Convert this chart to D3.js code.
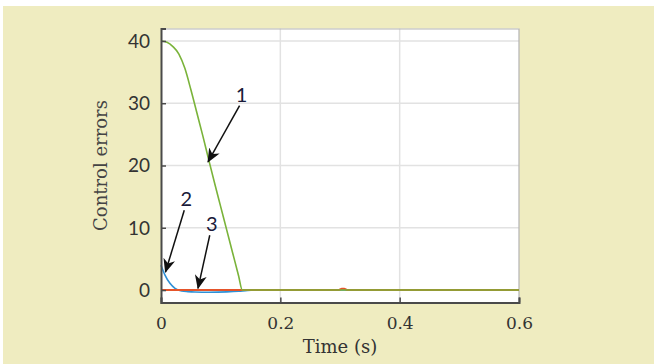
<!DOCTYPE html>
<html>
<head>
<meta charset="utf-8">
<script src="https://cdn.jsdelivr.net/npm/d3@7"></script>
<style>
  html, body { margin: 0; padding: 0; background: #ffffff; }
  svg { display: block; }
</style>
</head>
<body>
<svg id="chart" width="654" height="364"></svg>
<script>
// Control error traces (time in seconds, error value)
const timeTicks = [0, 0.2, 0.4, 0.6];
const errorTicks = [0, 10, 20, 30, 40];

const greenTime  = [0, 0.01, 0.02, 0.03, 0.04, 0.05, 0.06, 0.07, 0.08, 0.09, 0.10, 0.11, 0.12, 0.13, 0.1363, 0.6];
const greenError = [40, 39.8, 39.1, 37.9, 35.6, 32.2, 28.5, 24.8, 20.9, 17.1, 13.4, 9.7, 6.0, 2.3, 0, 0];

const blueTime  = [0, 0.0067, 0.015, 0.0235, 0.0347, 0.045, 0.057, 0.08, 0.11, 0.13, 0.145, 0.157, 0.6];
const blueError = [4.0, 2.4, 1.08, 0.27, -0.16, -0.26, -0.32, -0.35, -0.3, -0.2, -0.05, 0, 0];

const redTime  = [0, 0.298, 0.303, 0.307, 0.312, 0.6];
const redError = [0, 0, 0.2, 0.2, 0, 0];

// Numbered callouts: label, arrow tail and arrow tip in data units
const calloutLabels = ["1", "2", "3"];
const calloutTail = [[0.1317, 29.6], [0.039, 12.8], [0.0817, 8.8]];
const calloutTip  = [[0.0788, 20.6], [0.0075, 2.9], [0.062, 0.27]];

const svg = d3.select("#chart");
const W = 654, H = 364;
const margin = { left: 161, top: 28.5, right: 135, bottom: 61.5 };
const iw = W - margin.left - margin.right;
const ih = H - margin.top - margin.bottom;

// page background
svg.append("rect").attr("x", 0).attr("y", 0).attr("width", W).attr("height", H).attr("fill", "#ffffff");
svg.append("rect").attr("x", 3).attr("y", 6).attr("width", W - 3).attr("height", H - 6).attr("fill", "#efecc0");

const x = d3.scaleLinear().domain([0, 0.6]).range([0, iw]);
const y = d3.scaleLinear().domain([-2, 42]).range([ih, 0]);

const g = svg.append("g").attr("transform", `translate(${margin.left},${margin.top})`);

// plot area
g.append("rect").attr("width", iw).attr("height", ih).attr("fill", "#ffffff");

// grid
g.append("g").selectAll("line").data(timeTicks.slice(1, -1)).join("line")
  .attr("x1", d => x(d)).attr("x2", d => x(d)).attr("y1", 0).attr("y2", ih)
  .attr("stroke", "#e2e2e2").attr("stroke-width", 1.5);
g.append("g").selectAll("line").data(errorTicks).join("line")
  .attr("x1", 0).attr("x2", iw).attr("y1", d => y(d)).attr("y2", d => y(d))
  .attr("stroke", "#e2e2e2").attr("stroke-width", 1.5);

// top and right frame
g.append("path").attr("d", `M0,0.5H${iw}V${ih}`).attr("fill", "none")
  .attr("stroke", "#b4b4b4").attr("stroke-width", 1.2);

// series
const line = d3.line().x(d => x(d[0])).y(d => y(d[1])).curve(d3.curveMonotoneX);
const zip = (a, b) => a.map((t, i) => [t, b[i]]);

g.append("path").datum(zip(blueTime, blueError)).attr("d", line)
  .attr("fill", "none").attr("stroke", "#2f90d6").attr("stroke-width", 1.6);
g.append("path").datum(zip(redTime, redError)).attr("d", line)
  .attr("fill", "none").attr("stroke", "#e5542a").attr("stroke-width", 2);
g.append("path").datum(zip(greenTime, greenError)).attr("d", line)
  .attr("fill", "none").attr("stroke", "#7ab33a").attr("stroke-width", 1.6);

// axes
const xAxis = d3.axisBottom(x).tickValues(timeTicks).tickSize(-5).tickPadding(14)
  .tickFormat(d => d === 0 ? "0" : d3.format(".1f")(d));
const yAxis = d3.axisLeft(y).tickValues(errorTicks).tickSize(-5).tickPadding(11)
  .tickFormat(d3.format("d"));

const xg = g.append("g").attr("transform", `translate(0,${ih})`).call(xAxis);
const yg = g.append("g").call(yAxis);

[xg, yg].forEach(a => {
  a.select(".domain").attr("stroke", "#4a4a4a").attr("stroke-width", 2);
  a.selectAll(".tick line").attr("stroke", "#4a4a4a").attr("stroke-width", 1.5);
  a.selectAll(".tick text").attr("fill", "#333333");
});
xg.selectAll(".tick text").attr("font-family", "'DejaVu Serif', serif").attr("font-size", 17);
yg.selectAll(".tick text").attr("font-family", "Lato, sans-serif").attr("font-size", 19).attr("dy", "0.34em");

// axis titles
svg.append("text").attr("x", margin.left + iw / 2).attr("y", 353)
  .attr("text-anchor", "middle").attr("font-family", "'DejaVu Serif', serif")
  .attr("font-size", 18).attr("fill", "#333333").text("Time (s)");
svg.append("text").attr("transform", `translate(107,${margin.top + ih / 2}) rotate(-90)`)
  .attr("text-anchor", "middle").attr("font-family", "'DejaVu Serif', serif")
  .attr("font-size", 18).attr("fill", "#444444").text("Control errors");

// callout arrows
const defs = svg.append("defs");
defs.append("marker").attr("id", "head").attr("viewBox", "0 0 14 12")
  .attr("refX", 13).attr("refY", 6).attr("markerWidth", 14).attr("markerHeight", 12)
  .attr("markerUnits", "userSpaceOnUse").attr("orient", "auto")
  .append("path").attr("d", "M0,0L14,6L0,12L4,6Z").attr("fill", "#111111");

const callouts = g.append("g");
calloutLabels.forEach((lab, i) => {
  const [tx, ty] = calloutTail[i];
  const [hx, hy] = calloutTip[i];
  callouts.append("line")
    .attr("x1", x(tx)).attr("y1", y(ty)).attr("x2", x(hx)).attr("y2", y(hy))
    .attr("stroke", "#111111").attr("stroke-width", 1.5).attr("marker-end", "url(#head)");
  callouts.append("text").attr("x", x(tx) + 2).attr("y", y(ty) - 4)
    .attr("text-anchor", "middle").attr("font-family", "Lato, sans-serif")
    .attr("font-size", 20).attr("fill", "#1a1a3a").text(lab);
});
</script>
</body>
</html>
